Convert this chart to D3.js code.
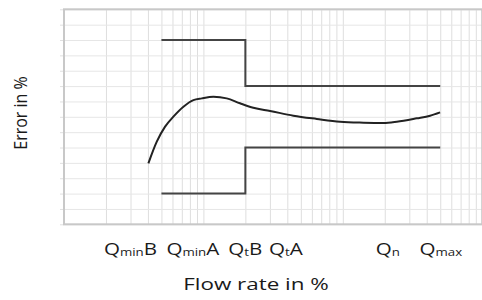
<!DOCTYPE html>
<html>
<head>
<meta charset="utf-8">
<script src="https://cdn.jsdelivr.net/npm/d3@7"></script>
<style>
html,body{margin:0;padding:0;background:#fff;}
svg{display:block;}
text{font-family:"Open Sans",sans-serif;fill:#1a1a1a;}
</style>
</head>
<body>
<svg id="chart" width="482" height="300"></svg>
<script>
// ---- data ----
const curveFlow  = [4.03, 4.63, 5.31, 6.09, 7.19, 8.48, 9.74, 11.8, 14.7, 18.3, 22.8, 30.1, 44.2, 65.1, 95.7, 141, 196, 244, 339, 423, 499];
const curveError = [-3.03, -1.62, -0.64, 0.01, 0.66, 1.09, 1.20, 1.30, 1.20, 0.88, 0.59, 0.38, 0.07, -0.14, -0.32, -0.38, -0.40, -0.32, -0.10, 0.07, 0.29];
const limitFlow  = [5, 20, 500];
const upperLimit = [5, 2, 2];
const lowerLimit = [-5, -2, -2];
const tickNames  = [["Q","min","B"], ["Q","min","A"], ["Q","t","B"], ["Q","t","A"], ["Q","n",""], ["Q","max",""]];
const tickFlows  = [3, 8.4, 20, 39, 210, 505];
const yTicks     = d3.range(-7, 8, 1);
const xTitle = "Flow rate in %";
const yTitle = "Error in %";

// ---- layout ----
const svg = d3.select("#chart");
const pL = 64, pR = 482.2, pT = 9.3, pB = 224.3;
const x = d3.scaleLog().domain([1, 1000]).range([pL, pR]);
const y = d3.scaleLinear().domain([-7, 7]).range([pB, pT]);
const SX = 1.33; // horizontal stretch of the text

// grid verticals
svg.append("g")
  .attr("transform", `translate(0,${pB})`)
  .call(d3.axisBottom(x).tickValues(x.ticks()).tickSize(-(pB - pT)).tickFormat(""))
  .call(g => g.select(".domain").remove())
  .call(g => g.selectAll("line").attr("stroke", "#dedede").attr("stroke-width", 1));

// grid horizontals
svg.append("g")
  .attr("transform", `translate(${pL},0)`)
  .call(d3.axisLeft(y).tickValues(yTicks).tickSize(-(pR - pL)).tickFormat(""))
  .call(g => g.select(".domain").remove())
  .call(g => g.selectAll("line").attr("stroke", "#e6e6e6").attr("stroke-width", 1));

// small left ticks
svg.append("g")
  .attr("transform", `translate(${pL},0)`)
  .call(d3.axisLeft(y).tickValues(yTicks).tickSize(4).tickFormat(""))
  .call(g => g.select(".domain").remove())
  .call(g => g.selectAll("line").attr("stroke", "#e0e0e0"));

// frame
svg.append("rect")
  .attr("x", pL).attr("y", pT)
  .attr("width", pR - pL).attr("height", pB - pT)
  .attr("fill", "none").attr("stroke", "#c8c8c8").attr("stroke-width", 2);

// limits
const step = d3.line().curve(d3.curveStepAfter).x(d => x(d[0])).y(d => y(d[1]));
[upperLimit, lowerLimit].forEach(lim => {
  svg.append("path")
    .attr("d", step(limitFlow.map((f, i) => [f, lim[i]])))
    .attr("fill", "none").attr("stroke", "#444").attr("stroke-width", 2);
});

// error curve
const smooth = d3.line().curve(d3.curveMonotoneX).x(d => x(d[0])).y(d => y(d[1]));
svg.append("path")
  .attr("d", smooth(curveFlow.map((f, i) => [f, curveError[i]])))
  .attr("fill", "none").attr("stroke", "#222").attr("stroke-width", 2);

// x tick labels
tickNames.forEach((parts, i) => {
  const t = svg.append("text")
    .attr("transform", `translate(${x(tickFlows[i])},255) scale(${SX},1)`)
    .attr("text-anchor", "middle")
    .style("font-size", "15.5px");
  t.append("tspan").text(parts[0]);
  t.append("tspan").text(parts[1]).style("font-size", "10px").attr("dy", 1);
  if (parts[2]) t.append("tspan").text(parts[2]).attr("dy", -1);
});

// axis titles
svg.append("text")
  .attr("transform", `translate(256,289.5) scale(1.4,1)`)
  .attr("text-anchor", "middle")
  .style("font-size", "16px")
  .text(xTitle);

svg.append("text")
  .attr("transform", `translate(27,113) scale(1.12,1) rotate(-90)`)
  .attr("text-anchor", "middle")
  .style("font-size", "16px")
  .text(yTitle);
</script>
</body>
</html>
